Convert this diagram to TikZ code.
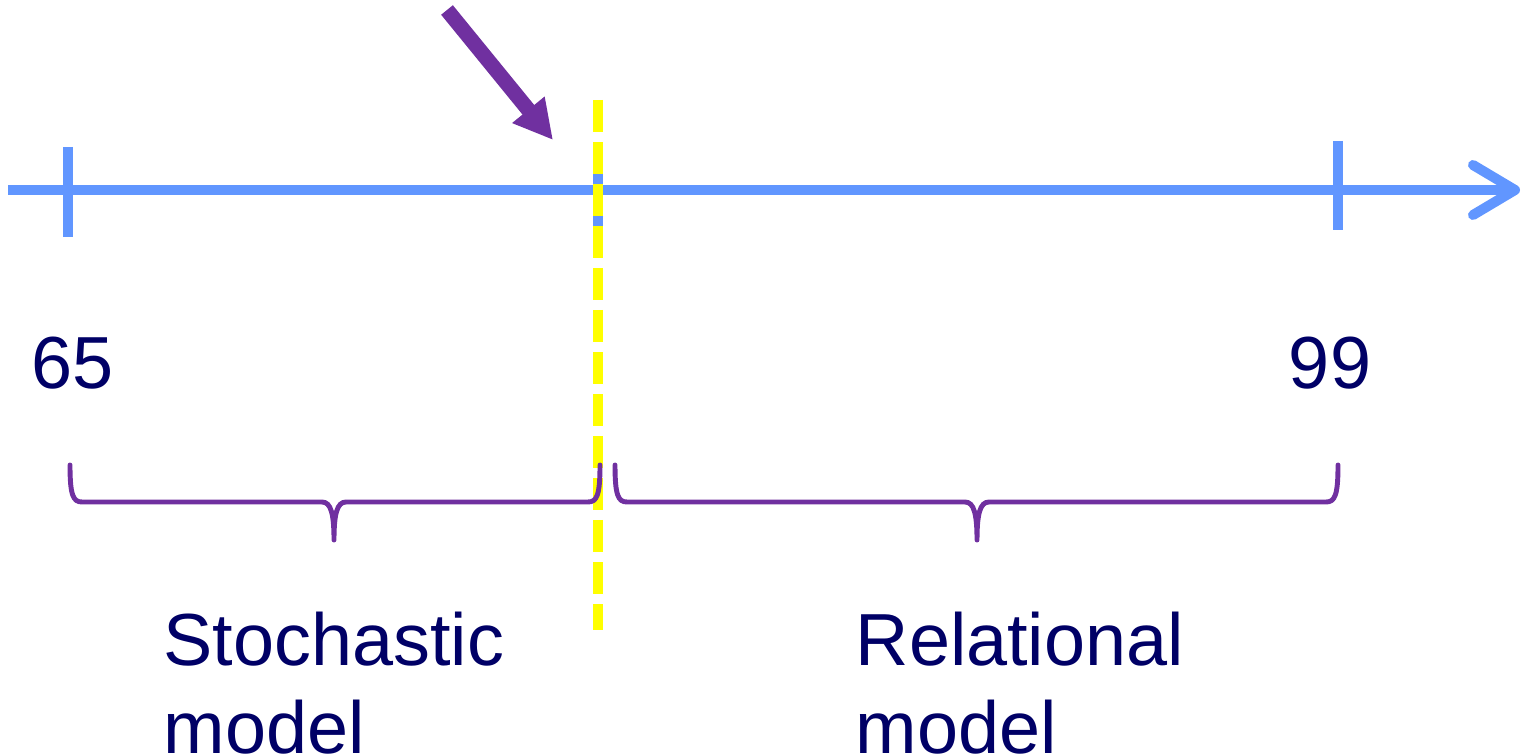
\documentclass[tikz,border=0pt]{standalone}
\usepackage{fontspec}
\setmainfont{Liberation Sans}
\usepackage{tikz}
\usetikzlibrary{arrows.meta,positioning}
\usepackage{xcolor}
\definecolor{axiscol}{RGB}{97,150,255}
\definecolor{bracecol}{RGB}{112,48,160}
\definecolor{splitcol}{RGB}{255,255,0}
\definecolor{labelcol}{RGB}{0,0,102}

\begin{document}
\begin{tikzpicture}[
  axis line/.style={draw=axiscol, line width=2.85pt},
  split line/.style={draw=splitcol, line width=2.85pt, dash pattern=on 9.1pt off 2.85pt},
  pointer/.style={draw=bracecol, fill=bracecol, line width=4.3pt,
                  -{Triangle[length=0.39cm,width=0.39cm]}},
  range brace/.style={draw=bracecol, line width=1.4pt, line cap=round,
                      line join=round},
  age label/.style={font=\fontsize{21}{25}\selectfont, text=labelcol,
                    inner sep=0pt},
  model label/.style={age label, align=left, anchor=base west},
  >=Stealth
]
  \useasboundingbox (0,0) rectangle (15.22,7.53);

  % Axis with ticks
  \coordinate (axstart) at (0.08,5.63);
  \coordinate (axend)   at (15.20,5.63);
  \draw[axis line,
        -{Straight Barb[length=0.42cm,width=0.5cm,round]}] (axstart) -- (axend);
  \coordinate (t65top) at (0.68,6.06);   \coordinate (t65bot) at (0.68,5.16);
  \coordinate (tmidtop) at (5.98,5.98);  \coordinate (tmidbot) at (5.98,5.13);
  \coordinate (t99top) at (13.38,6.12);  \coordinate (t99bot) at (13.38,5.23);
  \draw[axis line] (t65top) -- (t65bot);
  \draw[axis line] (tmidtop) -- (tmidbot);
  \draw[axis line] (t99top) -- (t99bot);

  % Age labels
  \node[age label, anchor=base] (a65) at (0.73,3.65) {65};
  \node[age label, anchor=base] (a99) at (13.30,3.65) {99};

  % Split point
  \coordinate (splittop) at (5.98,6.53);
  \coordinate (splitbot) at (5.98,1.23);
  \draw[split line] (splittop) -- (splitbot);
  \coordinate (ptail) at (4.47,7.43);
  \coordinate (phead) at (5.53,6.13);
  \draw[pointer] (ptail) -- (phead);

  % Ranges (end tops and middle tips)
  \coordinate (b1left)  at (0.70,2.88);
  \coordinate (b1mid)   at (3.34,2.13);
  \coordinate (b1right) at (6.00,2.88);
  \coordinate (b2left)  at (6.15,2.88);
  \coordinate (b2mid)   at (9.77,2.13);
  \coordinate (b2right) at (13.38,2.88);
  \foreach \l/\m/\r in {b1left/b1mid/b1right, b2left/b2mid/b2right} {
    \draw[range brace] (\l) .. controls +(0,-0.30) and +(-0.09,0) .. ++(0.12,-0.37)
      -- ([shift={(-0.12,0.38)}]\m) .. controls +(0.09,0) and +(0,0.26) .. (\m)
      .. controls +(0,0.26) and +(-0.09,0) .. ([shift={(0.12,0.38)}]\m)
      -- ([shift={(-0.12,-0.37)}]\r) .. controls +(0.09,0) and +(0,-0.30) .. (\r);
  }

  \node[model label] (stoch) at (1.63,0.0) {Stochastic\\model};
  \node[model label] (rel)   at (8.55,0.0) {Relational\\model};
\end{tikzpicture}
\end{document}
